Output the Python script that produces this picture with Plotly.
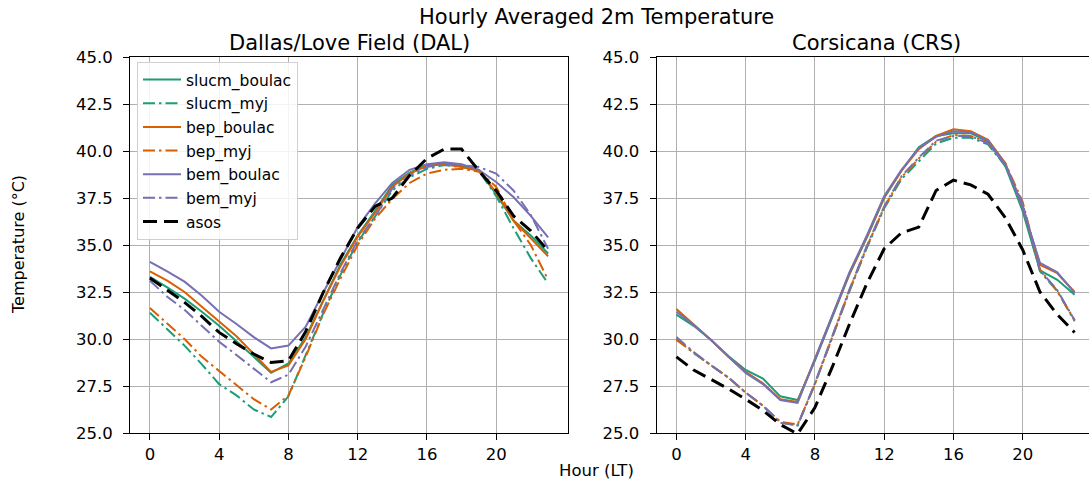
import plotly.graph_objects as go

W, H = 1089, 483

hours = list(range(24))

# ---- Dallas/Love Field (DAL) ----
dal_slucm_boulac = [33.3, 32.75, 32.15, 31.45, 30.7, 29.9, 29.05, 28.2, 28.7, 30.1, 32.05, 33.95,
                    35.5, 36.8, 38.2, 38.85, 39.25, 39.35, 39.2, 39.0, 37.7, 36.3, 35.5, 34.55]
dal_slucm_myj = [31.4, 30.5, 29.65, 28.65, 27.6, 27.0, 26.25, 25.85, 26.95, 29.15, 31.35, 33.4,
                 35.15, 36.5, 37.9, 38.6, 39.05, 39.25, 39.15, 38.95, 37.6, 35.9, 34.3, 32.95]
dal_bep_boulac = [33.6, 33.1, 32.5, 31.7, 30.95, 30.15, 29.2, 28.25, 28.6, 30.0, 32.0, 33.85,
                  35.45, 36.7, 38.1, 38.8, 39.2, 39.3, 39.15, 38.95, 37.8, 36.3, 35.35, 34.4]
dal_bep_myj = [31.65, 30.8, 30.0, 29.05, 28.3, 27.5, 26.8, 26.25, 27.0, 29.05, 31.3, 33.2,
               35.0, 36.4, 37.45, 38.3, 38.8, 39.0, 39.05, 38.9, 38.1, 36.3, 35.0, 33.15]
dal_bem_boulac = [34.1, 33.6, 33.05, 32.3, 31.45, 30.8, 30.1, 29.5, 29.65, 30.65, 32.45, 34.2,
                  35.95, 37.2, 38.3, 39.0, 39.3, 39.4, 39.3, 39.0, 38.35, 37.55, 36.55, 35.4]
dal_bem_myj = [33.1, 32.25, 31.55, 30.7, 29.85, 29.15, 28.45, 27.7, 28.1, 29.6, 31.55, 33.5,
               35.25, 36.5, 38.0, 38.7, 39.15, 39.3, 39.25, 39.15, 38.8, 37.9, 36.6, 34.8]
dal_asos = [33.25, 32.6, 31.95, 31.2, 30.35, 29.75, 29.2, 28.75, 28.85, 30.4, 32.45, 34.3,
            35.9, 37.05, 37.5, 38.7, 39.6, 40.1, 40.1, 38.95, 37.9, 36.55, 35.75, 34.7]

# ---- Corsicana (CRS) ----
crs_slucm_boulac = [31.3, 30.7, 29.95, 29.1, 28.35, 27.9, 26.95, 26.75, 28.85, 31.15, 33.45, 35.4,
                    37.5, 38.95, 40.2, 40.8, 40.95, 40.95, 40.5, 39.2, 36.8, 33.65, 33.15, 32.35]
crs_slucm_myj = [30.0, 29.25, 28.6, 27.95, 27.15, 26.45, 25.55, 25.4, 27.6, 30.1, 32.55, 34.85,
                 36.95, 38.5, 39.45, 40.4, 40.7, 40.7, 40.35, 39.2, 37.1, 33.6, 32.55, 30.95]
crs_bep_boulac = [31.6, 30.8, 29.95, 29.05, 28.25, 27.65, 26.8, 26.65, 28.9, 31.2, 33.5, 35.45,
                  37.55, 38.95, 40.1, 40.8, 41.15, 41.05, 40.6, 39.35, 37.0, 33.95, 33.5, 32.5]
crs_bep_myj = [29.95, 29.25, 28.6, 27.95, 27.15, 26.45, 25.6, 25.45, 27.6, 30.1, 32.6, 34.9,
               37.0, 38.6, 39.6, 40.5, 40.85, 40.8, 40.45, 39.35, 37.3, 33.7, 32.55, 31.0]
crs_bem_boulac = [31.45, 30.75, 29.95, 29.05, 28.2, 27.6, 26.75, 26.6, 28.95, 31.25, 33.55, 35.5,
                  37.6, 39.0, 40.15, 40.75, 41.05, 41.0, 40.55, 39.3, 37.0, 34.05, 33.55, 32.45]
crs_bem_myj = [30.1, 29.3, 28.6, 27.95, 27.15, 26.45, 25.55, 25.4, 27.65, 30.15, 32.65, 34.95,
               37.05, 38.65, 39.65, 40.55, 40.8, 40.8, 40.4, 39.25, 37.2, 33.65, 32.6, 31.0]
crs_asos = [29.05, 28.35, 27.85, 27.35, 26.8, 26.2, 25.45, 24.95, 26.35, 28.5, 30.8, 32.95,
            34.8, 35.65, 35.95, 37.9, 38.45, 38.2, 37.7, 36.45, 34.75, 32.5, 31.3, 30.35]

series_names = ["slucm_boulac", "slucm_myj", "bep_boulac", "bep_myj", "bem_boulac", "bem_myj", "asos"]
colors = {"slucm": "#1b9e77", "bep": "#d95f02", "bem": "#7570b3", "asos": "#000000"}

x_ticks = [0, 4, 8, 12, 16, 20]
y_ticks = [25.0, 27.5, 30.0, 32.5, 35.0, 37.5, 40.0, 42.5, 45.0]

dal = [dal_slucm_boulac, dal_slucm_myj, dal_bep_boulac, dal_bep_myj, dal_bem_boulac, dal_bem_myj, dal_asos]
crs = [crs_slucm_boulac, crs_slucm_myj, crs_bep_boulac, crs_bep_myj, crs_bem_boulac, crs_bem_myj, crs_asos]

FONT = "DejaVu Sans"
DASHDOT = "12px,4px,2.5px,4px"


def style(name):
    if name == "asos":
        return dict(color="#000000", width=3, dash="14px,7px")
    model, scheme = name.split("_")
    return dict(color=colors[model], width=2, dash="solid" if scheme == "boulac" else DASHDOT)


fig = go.Figure()
for name, ys in zip(series_names, dal):
    fig.add_trace(go.Scatter(x=hours, y=ys, mode="lines", name=name, line=style(name),
                             xaxis="x", yaxis="y", legendgroup=name, showlegend=True))
for name, ys in zip(series_names, crs):
    fig.add_trace(go.Scatter(x=hours, y=ys, mode="lines", name=name, line=style(name),
                             xaxis="x2", yaxis="y2", legendgroup=name, showlegend=False))

# geometry in pixels
L1, R1 = 130, 568
L2 = 656.5
TOP, BOT = 57, 433
px_per_hr = (R1 - L1) / 25.3
x_lo = -1.15
x2_hi = x_lo + (W - L2) / px_per_hr

axis_common = dict(showgrid=True, gridcolor="#b0b0b0", gridwidth=1, zeroline=False,
                   showline=True, linecolor="#000000", linewidth=1, automargin=False,
                   ticks="outside", ticklen=6, tickwidth=1, tickcolor="#000000",
                   tickfont=dict(family=FONT, size=16.5, color="#000000"))

ydom = [(H - BOT) / H, (H - TOP) / H]

fig.update_layout(
    width=W, height=H,
    margin=dict(l=0, r=0, t=0, b=0, autoexpand=False),
    paper_bgcolor="white", plot_bgcolor="white",
    font=dict(family=FONT, color="#000000"),
    xaxis=dict(domain=[L1 / W, R1 / W], range=[x_lo, 24.15], tickvals=x_ticks, mirror=True,
               anchor="y", ticklabelstandoff=0, **axis_common),
    yaxis=dict(domain=ydom, range=[25, 45], tickvals=y_ticks, tickformat=".1f", mirror=True,
               anchor="x", ticklabelstandoff=7, **axis_common),
    xaxis2=dict(domain=[L2 / W, 1.0], range=[x_lo, x2_hi], tickvals=x_ticks, mirror=True,
                anchor="y2", ticklabelstandoff=0, **axis_common),
    yaxis2=dict(domain=ydom, range=[25, 45], tickvals=y_ticks, tickformat=".1f", mirror=False,
                anchor="x2", ticklabelstandoff=7, **axis_common),
    legend=dict(x=137 / W, y=1 - 62 / H, xanchor="left", yanchor="top",
                bgcolor="rgba(255,255,255,0.85)", bordercolor="#d0d0d0", borderwidth=1,
                font=dict(family=FONT, size=15.5, color="#000000"),
                traceorder="grouped", tracegroupgap=0.5, itemwidth=38),
    showlegend=True,
)

annots = [
    dict(text="Hourly Averaged 2m Temperature", x=596 / W, y=1 - 17 / H, size=21),
    dict(text="Dallas/Love Field (DAL)", x=349 / W, y=1 - 43 / H, size=21),
    dict(text="Corsicana (CRS)", x=876 / W, y=1 - 43 / H, size=21),
    dict(text="Hour (LT)", x=596 / W, y=1 - 470 / H, size=16.5),
]
for a in annots:
    fig.add_annotation(text=a["text"], x=a["x"], y=a["y"], xref="paper", yref="paper",
                       xanchor="center", yanchor="middle", showarrow=False,
                       font=dict(family=FONT, size=a["size"], color="#000000"))
fig.add_annotation(text="Temperature (°C)", x=18 / W, y=1 - 245 / H, xref="paper", yref="paper",
                   xanchor="center", yanchor="middle", showarrow=False, textangle=-90,
                   font=dict(family=FONT, size=16, color="#000000"))

fig.write_html("out.html")
